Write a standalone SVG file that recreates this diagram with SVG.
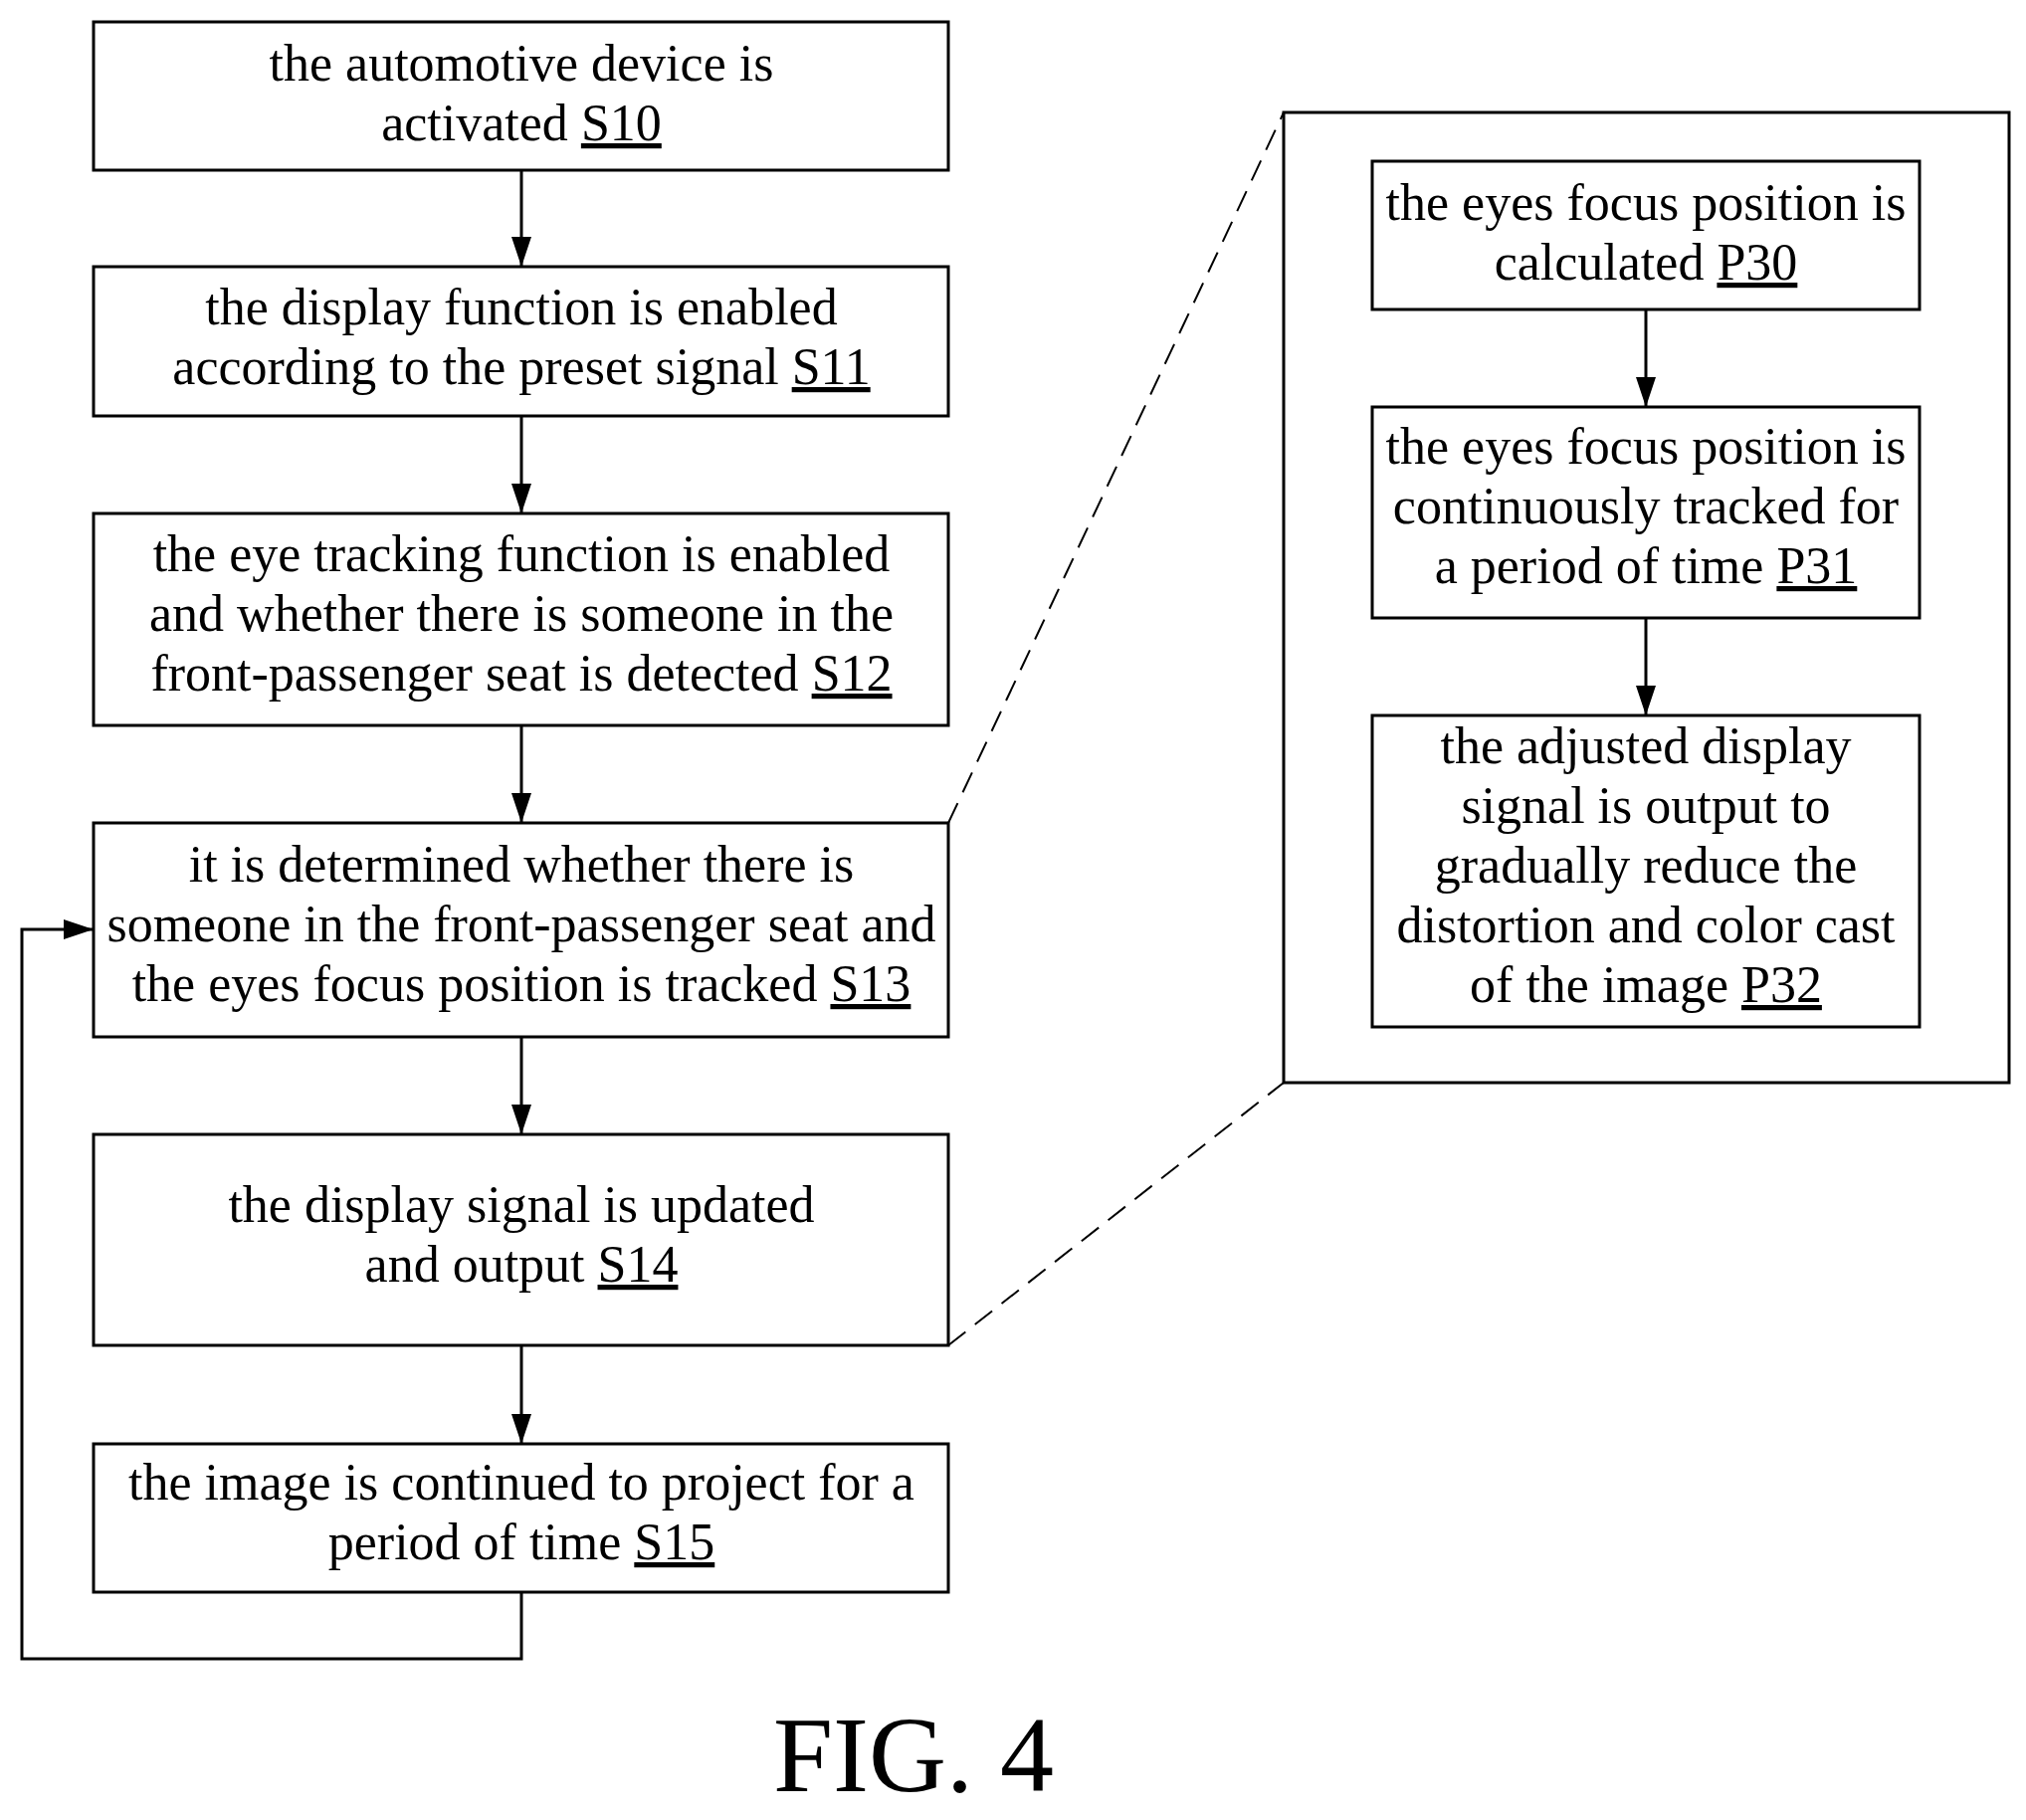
<svg xmlns="http://www.w3.org/2000/svg" width="2036" height="1829" viewBox="0 0 2036 1829">
<style>
rect{fill:#fff;stroke:#000;stroke-width:3}
text{font-family:"Liberation Serif","Times New Roman",serif;font-size:52px;text-anchor:middle;fill:#000}
.u{text-decoration:underline}
.c{stroke:#000;stroke-width:3;fill:none;marker-end:url(#a)}
.d{stroke:#000;stroke-width:2;fill:none;stroke-dasharray:22 12}
</style>
<defs><marker id="a" markerWidth="30" markerHeight="20" refX="30" refY="10" orient="auto" markerUnits="userSpaceOnUse" viewBox="0 0 30 20"><path d="M0,0L30,10L0,20z" fill="#000"/></marker></defs>
<rect x="0" y="0" width="2036" height="1829" style="stroke:none"/>
<g id="detail"><rect x="1290" y="113" width="729" height="975"/></g>
<g id="connectors">
<path class="c" d="M524 171V268"/>
<path class="c" d="M524 418V516"/>
<path class="c" d="M524 729V827"/>
<path class="c" d="M524 1042V1140"/>
<path class="c" d="M524 1352V1451"/>
<path class="c" d="M524 1600V1667H22V934H94"/>
<path class="c" d="M1654 311V409"/>
<path class="c" d="M1654 621V719"/>
<path class="d" d="M953 827L1290 113"/>
<path class="d" d="M953 1352L1290 1088"/>
</g>
<g id="S10"><rect x="94" y="22" width="859" height="149"/><text x="524" y="81">the automotive device is</text><text x="524" y="141">activated <tspan class="u">S10</tspan></text></g>
<g id="S11"><rect x="94" y="268" width="859" height="150"/><text x="524" y="326">the display function is enabled</text><text x="524" y="386">according to the preset signal <tspan class="u">S11</tspan></text></g>
<g id="S12"><rect x="94" y="516" width="859" height="213"/><text x="524" y="574">the eye tracking function is enabled</text><text x="524" y="634">and whether there is someone in the</text><text x="524" y="694">front-passenger seat is detected <tspan class="u">S12</tspan></text></g>
<g id="S13"><rect x="94" y="827" width="859" height="215"/><text x="524" y="886">it is determined whether there is</text><text x="524" y="946">someone in the front-passenger seat and</text><text x="524" y="1006">the eyes focus position is tracked <tspan class="u">S13</tspan></text></g>
<g id="S14"><rect x="94" y="1140" width="859" height="212"/><text x="524" y="1228">the display signal is updated</text><text x="524" y="1288">and output <tspan class="u">S14</tspan></text></g>
<g id="S15"><rect x="94" y="1451" width="859" height="149"/><text x="524" y="1507">the image is continued to project for a</text><text x="524" y="1567">period of time <tspan class="u">S15</tspan></text></g>
<g id="P30"><rect x="1379" y="162" width="550" height="149"/><text x="1654" y="221">the eyes focus position is</text><text x="1654" y="281">calculated <tspan class="u">P30</tspan></text></g>
<g id="P31"><rect x="1379" y="409" width="550" height="212"/><text x="1654" y="466">the eyes focus position is</text><text x="1654" y="526">continuously tracked for</text><text x="1654" y="586">a period of time <tspan class="u">P31</tspan></text></g>
<g id="P32"><rect x="1379" y="719" width="550" height="313"/><text x="1654" y="767">the adjusted display</text><text x="1654" y="827">signal is output to</text><text x="1654" y="887">gradually reduce the</text><text x="1654" y="947">distortion and color cast</text><text x="1654" y="1007">of the image  <tspan class="u">P32</tspan></text></g>
<text x="918" y="1800" style="font-size:108px">FIG. 4</text>
</svg>
